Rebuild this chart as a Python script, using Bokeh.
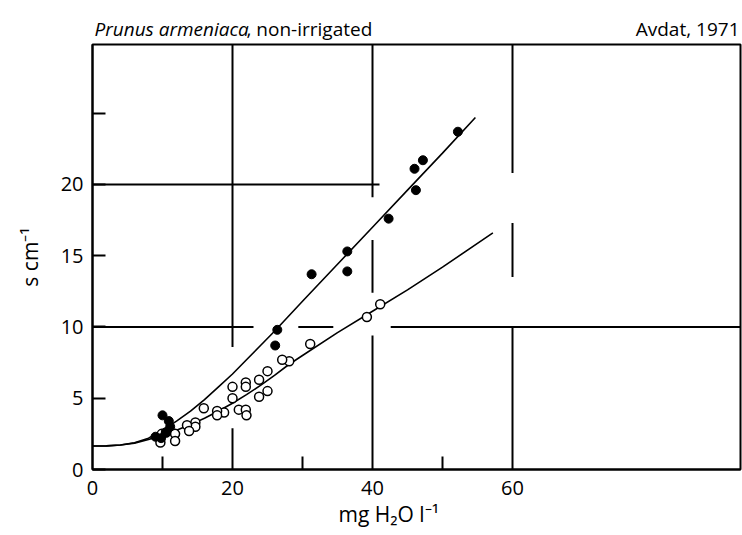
from bokeh.plotting import figure
from bokeh.models import FixedTicker, Label, Range1d, Title
from bokeh.layouts import column
from bokeh.embed import file_html
from bokeh.resources import INLINE

# ---- data ----
# filled circles
closed_x = [9.0, 9.8, 10.0, 10.5, 10.9, 11.1, 26.1, 26.4, 31.3, 36.4, 36.4, 42.3, 46.0, 46.2, 47.2, 52.2]
closed_y = [2.3, 2.2, 3.8, 2.6, 3.4, 3.0, 8.7, 9.8, 13.7, 13.9, 15.3, 17.6, 21.1, 19.6, 21.7, 23.7]

# open circles
open_x = [41.1, 39.2, 31.1, 28.1, 27.1, 25.0, 23.8, 25.0, 23.8, 21.9, 21.9, 20.0, 20.0, 20.9,
          21.9, 22.0, 18.8, 17.8, 17.8, 15.9, 14.7, 14.7, 13.5, 13.8, 11.8, 11.8, 9.9, 9.7, 10.5]
open_y = [11.6, 10.7, 8.8, 7.6, 7.7, 6.9, 6.3, 5.5, 5.1, 6.1, 5.8, 5.8, 5.0, 4.2,
          4.2, 3.8, 4.0, 4.1, 3.8, 4.3, 3.3, 3.0, 3.1, 2.7, 2.5, 2.0, 2.5, 1.9, 2.6]

# fitted curve for the filled circles
upper_x = [0, 2, 4, 6, 8, 10, 12, 14, 16, 18, 20, 22, 24, 26, 30, 35, 40, 45, 50, 54.7]
upper_y = [1.65, 1.66, 1.72, 1.88, 2.2, 2.75, 3.4, 4.1, 4.9, 5.8, 6.7, 7.7, 8.7, 9.7, 11.8, 14.4, 17.0, 19.6, 22.2, 24.7]

# fitted curve for the open circles
lower_x = [0, 2, 4, 6, 8, 10, 12, 14, 16, 18, 20, 22, 24, 26, 28, 30, 35, 40, 45, 50, 57.2]
lower_y = [1.65, 1.66, 1.72, 1.85, 2.1, 2.4, 2.75, 3.15, 3.6, 4.1, 4.65, 5.25, 5.9, 6.6, 7.35, 8.0, 9.6, 11.1, 12.6, 14.2, 16.6]

# axis ticks
x_ticks = [0, 20, 40, 60]
x_minor = [10, 30, 50]
y_ticks = [0, 5, 10, 15, 20]
y_minor = [25]

X_MAX = 92.57
Y_MAX = 29.82

# broken rule lines of the printed chart
vgrid_x = [20, 20, 40, 40, 40, 60, 60, 60]
vgrid_y0 = [0, 8.6, 0, 12.4, 19.1, 0, 13.5, 20.8]
vgrid_y1 = [2.9, Y_MAX, 9.4, 16.1, Y_MAX, 10.0, 17.3, Y_MAX]
hgrid_y = [20, 10, 10, 10]
hgrid_x0 = [0, 0, 29.4, 42.6]
hgrid_x1 = [41.0, 23.0, 34.4, X_MAX]

FONT = "Open Sans"
W = 742
LEFT = 92
RIGHT = 2

# ---- title strip (its frame is aligned with the chart frame: LEFT .. W-RIGHT) ----
top = figure(width=W, height=40, x_range=Range1d(LEFT, W - RIGHT), y_range=Range1d(40, 0),
             output_backend="svg", toolbar_location=None, title=None,
             x_axis_location=None, y_axis_location=None,
             min_border_left=LEFT, min_border_right=RIGHT, min_border_top=0, min_border_bottom=0)
top.outline_line_color = None
top.xgrid.visible = False
top.ygrid.visible = False
top.border_fill_color = "white"
top.add_layout(Label(x=94, y=28, text="Prunus armeniaca", text_font=FONT, text_font_style="italic",
                     text_font_size="19px", text_color="black", text_baseline="alphabetic", text_align="left"))
top.add_layout(Label(x=246, y=28, text=", non-irrigated", text_font=FONT,
                     text_font_size="19px", text_color="black", text_baseline="alphabetic", text_align="left"))
top.add_layout(Label(x=739, y=28, text="Avdat, 1971", text_font=FONT,
                     text_font_size="19px", text_color="black", text_baseline="alphabetic", text_align="right"))

# ---- main chart ----
p = figure(width=W, height=495, x_range=Range1d(0, X_MAX), y_range=Range1d(0, Y_MAX),
           output_backend="svg", toolbar_location=None, title=None,
           min_border_left=LEFT, min_border_right=RIGHT, min_border_top=4, min_border_bottom=66)

p.xgrid.visible = False
p.ygrid.visible = False
p.outline_line_color = "black"
p.outline_line_width = 2
p.background_fill_color = "white"
p.border_fill_color = "white"

p.xaxis.ticker = FixedTicker(ticks=x_ticks, minor_ticks=x_minor)
p.yaxis.ticker = FixedTicker(ticks=y_ticks, minor_ticks=y_minor)
for ax in (p.xaxis[0], p.yaxis[0]):
    ax.axis_line_width = 2
    ax.axis_line_color = "black"
    ax.major_tick_out = 0
    ax.minor_tick_out = 0
    ax.minor_tick_in = 13
    ax.minor_tick_line_width = 2
    ax.major_tick_line_width = 2
    ax.major_label_text_font = FONT
    ax.major_label_text_font_size = "20px"
    ax.major_label_text_color = "black"
p.xaxis.major_tick_in = 0
p.yaxis.major_tick_in = 13
p.xaxis.major_label_standoff = 11
p.yaxis.major_label_standoff = 9
p.yaxis.axis_label = "s cm\u207b\u00b9"
p.yaxis.axis_label_text_font = FONT
p.yaxis.axis_label_text_font_size = "21px"
p.yaxis.axis_label_text_font_style = "normal"
p.yaxis.axis_label_text_color = "black"
p.yaxis.axis_label_standoff = 14

# x-axis title, placed left of centre as in the print
p.add_layout(Title(text="mg H\u2082O l\u207b\u00b9", align="left", offset=246, standoff=0,
                   text_font=FONT, text_font_size="21px", text_font_style="normal",
                   text_color="black"), "below")

# rule lines
p.segment(x0=vgrid_x, y0=vgrid_y0, x1=vgrid_x, y1=vgrid_y1, line_color="black", line_width=2)
p.segment(x0=hgrid_x0, y0=hgrid_y, x1=hgrid_x1, y1=hgrid_y, line_color="black", line_width=2)

# curves
p.line(upper_x, upper_y, line_color="black", line_width=1.6)
p.line(lower_x, lower_y, line_color="black", line_width=1.6)

# points
p.scatter(open_x, open_y, marker="circle", size=9, fill_color="white", line_color="black", line_width=1.5)
p.scatter(closed_x, closed_y, marker="circle", size=9, fill_color="black", line_color="black")

layout = column(top, p, spacing=0)
open("out.html", "w").write(file_html(layout, INLINE))
